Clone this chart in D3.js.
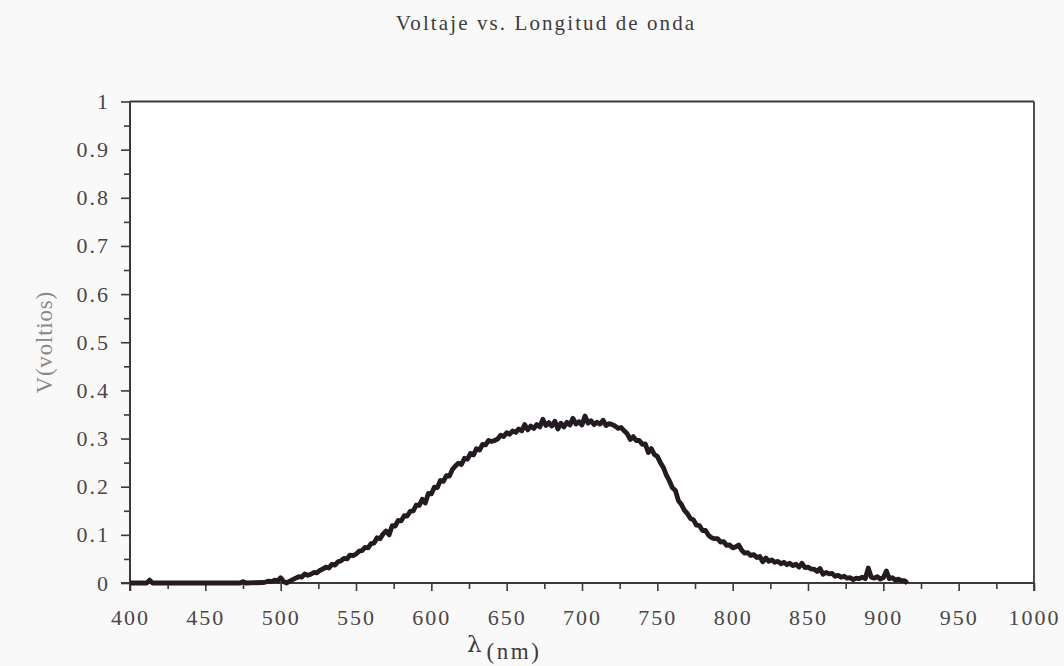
<!DOCTYPE html>
<html>
<head>
<meta charset="utf-8">
<script src="https://cdn.jsdelivr.net/npm/d3@7"></script>
<style>
  html, body { margin: 0; padding: 0; background: #f9f9fa; }
  svg { display: block; }
  text { font-family: "Liberation Serif", "DejaVu Serif", serif; }
</style>
</head>
<body>
<svg id="chart" width="1064" height="666"></svg>
<script>
// Measured spectrum: photodetector voltage against wavelength
const wavelength = [
  400, 411, 413, 415, 473, 475, 477, 488,
  490, 492, 494, 496, 498, 500, 502, 504, 506, 508,
  510, 512, 514, 516, 518, 520, 522, 524, 526, 528,
  530, 532, 534, 536, 538, 540, 542, 544, 546, 548,
  550, 552, 554, 556, 558, 560, 562, 564, 566, 568,
  570, 572, 574, 576, 578, 580, 582, 584, 586, 588,
  590, 592, 594, 596, 598, 600, 602, 604, 606, 608,
  610, 612, 614, 616, 618, 620, 622, 624, 626, 628,
  630, 632, 634, 636, 638, 640, 642, 644, 646, 648,
  650, 652, 654, 656, 658, 660, 662, 664, 666, 668,
  670, 672, 674, 676, 678, 680, 682, 684, 686, 688,
  690, 692, 694, 696, 698, 700, 702, 704, 706, 708,
  710, 712, 714, 716, 718, 720, 722, 724, 726, 728,
  730, 732, 734, 736, 738, 740, 742, 744, 746, 748,
  750, 752, 754, 756, 758, 760, 762, 764, 766, 768,
  770, 772, 774, 776, 778, 780, 782, 784, 786, 788,
  790, 792, 794, 796, 798, 800, 802, 804, 806, 808,
  810, 812, 814, 816, 818, 820, 822, 824, 826, 828,
  830, 832, 834, 836, 838, 840, 842, 844, 846, 848,
  850, 852, 854, 856, 858, 860, 862, 864, 866, 868,
  870, 872, 874, 876, 878, 880, 882, 884, 886, 888,
  890, 892, 894, 896, 898, 900, 902, 904, 906, 908,
  910, 912, 914, 916
];

const voltage = [
  0.000, 0.000, 0.006, 0.000, 0.000, 0.003, 0.000, 0.001,
  0.002, 0.004, 0.003, 0.006, 0.004, 0.011, 0.003, 0.000, 0.004, 0.007,
  0.010, 0.013, 0.012, 0.019, 0.016, 0.018, 0.022, 0.021, 0.026, 0.029,
  0.033, 0.031, 0.039, 0.037, 0.044, 0.046, 0.051, 0.050, 0.058, 0.057,
  0.060, 0.066, 0.067, 0.074, 0.073, 0.082, 0.083, 0.094, 0.092, 0.102,
  0.108, 0.100, 0.119, 0.118, 0.130, 0.129, 0.140, 0.139, 0.149, 0.150,
  0.162, 0.161, 0.174, 0.166, 0.186, 0.185, 0.199, 0.198, 0.213, 0.211,
  0.223, 0.222, 0.236, 0.243, 0.249, 0.246, 0.259, 0.257, 0.269, 0.266,
  0.279, 0.276, 0.288, 0.287, 0.296, 0.294, 0.296, 0.299, 0.307, 0.304,
  0.312, 0.309, 0.316, 0.313, 0.320, 0.316, 0.329, 0.318, 0.326, 0.321,
  0.329, 0.324, 0.340, 0.327, 0.333, 0.326, 0.336, 0.320, 0.332, 0.324,
  0.334, 0.328, 0.342, 0.330, 0.335, 0.328, 0.347, 0.332, 0.337, 0.329,
  0.334, 0.330, 0.338, 0.327, 0.331, 0.329, 0.326, 0.321, 0.323, 0.316,
  0.310, 0.298, 0.304, 0.296, 0.296, 0.288, 0.289, 0.271, 0.279, 0.267,
  0.263, 0.250, 0.240, 0.224, 0.212, 0.198, 0.192, 0.171, 0.163, 0.151,
  0.144, 0.134, 0.131, 0.120, 0.119, 0.109, 0.109, 0.099, 0.094, 0.092,
  0.092, 0.085, 0.086, 0.078, 0.079, 0.073, 0.075, 0.079, 0.068, 0.062,
  0.063, 0.057, 0.059, 0.053, 0.055, 0.044, 0.052, 0.045, 0.048, 0.043,
  0.045, 0.040, 0.043, 0.038, 0.041, 0.036, 0.039, 0.033, 0.041, 0.032,
  0.033, 0.029, 0.029, 0.024, 0.030, 0.018, 0.022, 0.019, 0.020, 0.014,
  0.016, 0.012, 0.014, 0.010, 0.011, 0.007, 0.010, 0.009, 0.012, 0.009,
  0.031, 0.012, 0.010, 0.013, 0.008, 0.011, 0.025, 0.009, 0.011, 0.006,
  0.008, 0.005, 0.005, 0.000
];

const xMajorTicks = [400, 450, 500, 550, 600, 650, 700, 750, 800, 850, 900, 950, 1000];
const xMinorTicks = [425, 475, 525, 575, 625, 675, 725, 775, 825, 875, 925, 975];
const yMajorTicks = [0, 0.1, 0.2, 0.3, 0.4, 0.5, 0.6, 0.7, 0.8, 0.9, 1];
const yMinorTicks = [0.05, 0.15, 0.25, 0.35, 0.45, 0.55, 0.65, 0.75, 0.85, 0.95];

const titleText = "Voltaje vs. Longitud de onda";
const yLabelText = "V(voltios)";

const margin = { left: 130, right: 30, top: 101.5, bottom: 83 };
const W = 1064, H = 666;
const svg = d3.select("#chart");

const x = d3.scaleLinear().domain([400, 1000]).range([margin.left, W - margin.right]);
const y = d3.scaleLinear().domain([0, 1]).range([H - margin.bottom, margin.top]);

const ink = "#3d383b";
const labelInk = "#4a4548";

// plot area
svg.append("rect")
  .attr("x", x(400)).attr("y", y(1))
  .attr("width", x(1000) - x(400)).attr("height", y(0) - y(1))
  .attr("fill", "#ffffff");

// title
svg.append("text")
  .attr("x", 546).attr("y", 30)
  .attr("text-anchor", "middle")
  .attr("font-size", 21)
  .attr("letter-spacing", 2.1)
  .attr("fill", "#3f3a3d")
  .text(titleText);

// y axis: major ticks with labels, then minor ticks
const yAxis = svg.append("g")
  .attr("transform", `translate(${x(400)},0)`)
  .call(d3.axisLeft(y).tickValues(yMajorTicks).tickSize(9).tickPadding(11)
    .tickFormat(d => d === 0 ? "0" : d === 1 ? "1" : d3.format(".1f")(d)));
yAxis.select(".domain").remove();
yAxis.selectAll(".tick line").attr("stroke", ink).attr("stroke-width", 1.6);
yAxis.selectAll(".tick text")
  .attr("font-family", "Liberation Serif, serif")
  .attr("font-size", 22).attr("letter-spacing", 2).attr("fill", labelInk);

const yMinor = svg.append("g")
  .attr("transform", `translate(${x(400)},0)`)
  .call(d3.axisLeft(y).tickValues(yMinorTicks).tickSize(6).tickFormat(""));
yMinor.select(".domain").remove();
yMinor.selectAll(".tick line").attr("stroke", ink).attr("stroke-width", 1.6);

// x axis
const xAxis = svg.append("g")
  .attr("transform", `translate(0,${y(0)})`)
  .call(d3.axisBottom(x).tickValues(xMajorTicks).tickSize(8).tickPadding(18)
    .tickFormat(d3.format("d")));
xAxis.select(".domain").remove();
xAxis.selectAll(".tick line").attr("stroke", ink).attr("stroke-width", 1.6);
xAxis.selectAll(".tick text")
  .attr("font-family", "Liberation Serif, serif")
  .attr("font-size", 22).attr("letter-spacing", 2).attr("fill", labelInk);

const xMinor = svg.append("g")
  .attr("transform", `translate(0,${y(0)})`)
  .call(d3.axisBottom(x).tickValues(xMinorTicks).tickSize(6).tickFormat(""));
xMinor.select(".domain").remove();
xMinor.selectAll(".tick line").attr("stroke", ink).attr("stroke-width", 1.6);

// frame around the plot
svg.append("line")
  .attr("x1", x(400)).attr("x2", x(400)).attr("y1", y(1)).attr("y2", y(0) + 8)
  .attr("stroke", ink).attr("stroke-width", 2);
svg.append("line")
  .attr("x1", x(400) - 9).attr("x2", x(1000)).attr("y1", y(0)).attr("y2", y(0))
  .attr("stroke", ink).attr("stroke-width", 1.8);
svg.append("line")
  .attr("x1", x(400)).attr("x2", x(1000)).attr("y1", y(1)).attr("y2", y(1))
  .attr("stroke", ink).attr("stroke-width", 1.8);
svg.append("line")
  .attr("x1", x(1000)).attr("x2", x(1000)).attr("y1", y(1)).attr("y2", y(0) + 8)
  .attr("stroke", ink).attr("stroke-width", 1.8);

// measured curve
const pts = wavelength.map((w, i) => [w, voltage[i]]);
svg.append("path")
  .datum(pts)
  .attr("fill", "none")
  .attr("stroke", "#241b22")
  .attr("stroke-width", 4.8)
  .attr("stroke-linejoin", "round")
  .attr("d", d3.line().x(d => x(d[0])).y(d => y(d[1])));

// axis titles
svg.append("text")
  .attr("transform", `translate(52,${y(0.5)}) rotate(-90)`)
  .attr("text-anchor", "middle")
  .attr("font-size", 23)
  .attr("letter-spacing", 0.8)
  .attr("fill", "#8b8789")
  .text(yLabelText);

const xl = svg.append("text")
  .attr("x", 467).attr("y", 652)
  .attr("font-size", 23)
  .attr("fill", "#3f3a3d");
xl.append("tspan").attr("font-family", "DejaVu Serif, serif").attr("font-size", 23).text("λ");
xl.append("tspan").attr("dx", 5).attr("dy", 7).attr("letter-spacing", 2.5).text("(nm)");
</script>
</body>
</html>
